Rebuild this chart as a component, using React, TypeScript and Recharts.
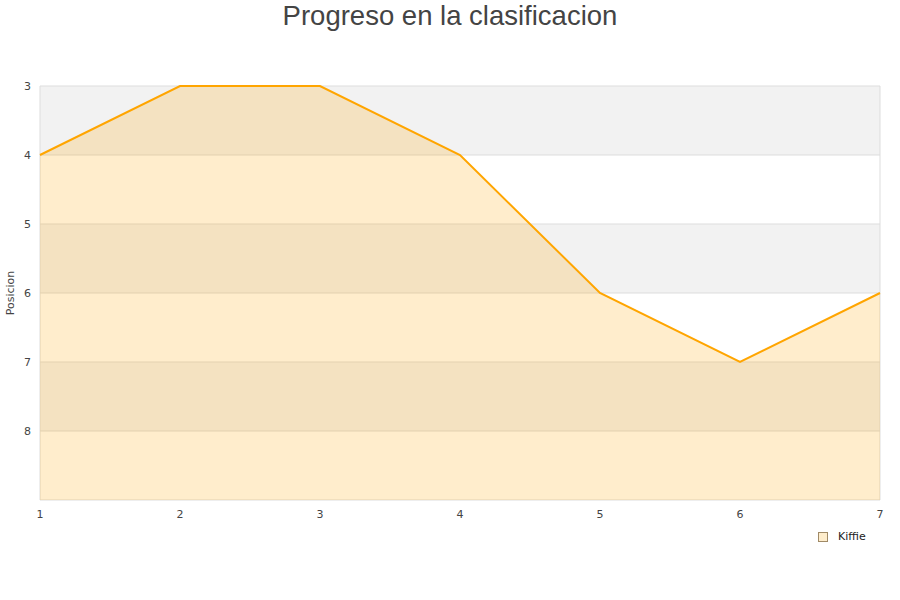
import { Area, AreaChart, CartesianGrid, XAxis, YAxis } from "recharts";

const rounds = [1, 2, 3, 4, 5, 6, 7];
const positions = [4, 3, 3, 4, 6, 7, 6];
const yTicks = [3, 4, 5, 6, 7, 8, 9];
const seriesName = "Kiffie";
const title = "Progreso en la clasificacion";

const data = rounds.map((r, i) => ({ round: r, pos: positions[i] }));

const App = () => {
  return (
    <div
      style={{
        position: "absolute",
        left: 0,
        top: 0,
        width: 900,
        height: 600,
        background: "#fff",
        fontFamily: "'DejaVu Sans', sans-serif",
      }}
    >
      <div
        style={{
          position: "absolute",
          top: 0,
          width: 900,
          textAlign: "center",
          fontFamily: "'Liberation Sans', Arial, sans-serif",
          fontSize: 27.5,
          lineHeight: "32px",
          color: "#444",
        }}
      >
        {title}
      </div>
      <AreaChart
        width={900}
        height={600}
        data={data}
        margin={{ top: 86, right: 20, bottom: 70, left: 0 }}
      >
        <CartesianGrid
          stroke="#dddddd"
          horizontalFill={["#f2f2f2", "#ffffff"]}
          verticalCoordinatesGenerator={({ offset }: any) => [
            offset.left,
            offset.left + offset.width,
          ]}
        />
        <XAxis
          dataKey="round"
          type="number"
          domain={[1, 7]}
          ticks={rounds}
          axisLine={false}
          tickLine={false}
          tickMargin={4}
          height={30}
          tick={{ fill: "#444", fontSize: 11 }}
        />
        <YAxis
          reversed
          type="number"
          domain={[3, 9]}
          ticks={yTicks}
          tickFormatter={(v: number) => (v === 9 ? "" : String(v))}
          axisLine={false}
          tickLine={false}
          tickMargin={3}
          width={40}
          tick={{ fill: "#444", fontSize: 11 }}
          label={{
            value: "Posicion",
            angle: -90,
            position: "insideLeft",
            offset: 10,
            style: { fill: "#444", fontSize: 11, textAnchor: "middle" },
          }}
        />
        <Area
          type="linear"
          dataKey="pos"
          name={seriesName}
          baseValue={9}
          stroke="#ffa500"
          strokeWidth={2}
          fill="#ffa500"
          fillOpacity={0.2}
          dot={false}
          activeDot={false}
          isAnimationActive={false}
        />
      </AreaChart>
      <div
        style={{
          position: "absolute",
          left: 818,
          top: 530,
          display: "flex",
          alignItems: "center",
          fontSize: 11,
          color: "#222",
        }}
      >
        <span
          style={{
            display: "inline-block",
            width: 8,
            height: 8,
            background: "#feedcc",
            border: "1px solid #a08a66",
            marginRight: 10,
          }}
        />
        {seriesName}
      </div>
    </div>
  );
};

export default App;
